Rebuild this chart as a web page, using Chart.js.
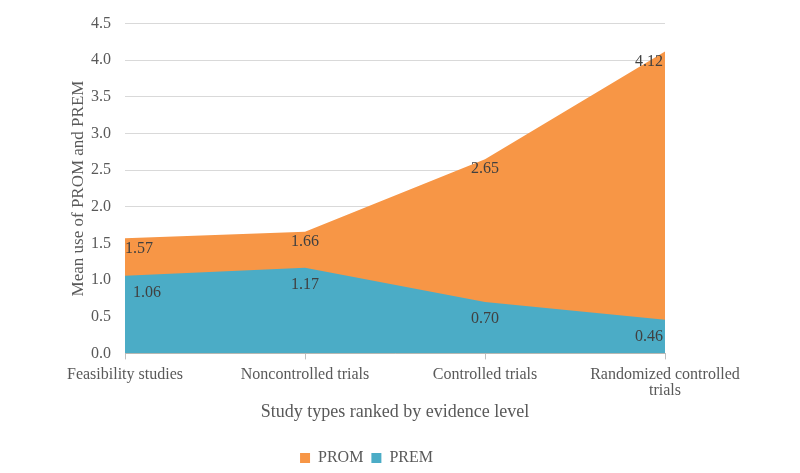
<!DOCTYPE html>
<html>
<head>
<meta charset="utf-8">
<script src="https://cdn.jsdelivr.net/npm/chart.js@4/dist/chart.umd.min.js"></script>
<style>
  html, body { margin: 0; padding: 0; background: #fff; }
  #wrap { width: 800px; height: 473px; }
</style>
</head>
<body>
<div id="wrap"><canvas id="chart"></canvas></div>
<script>
// study types, ranked by evidence level
const categories = [
  'Feasibility studies',
  'Noncontrolled trials',
  'Controlled trials',
  ['Randomized controlled', 'trials']
];
const promValues = [1.57, 1.66, 2.65, 4.12];
const premValues = [1.06, 1.17, 0.70, 0.46];
const yTicks = [0, 0.5, 1, 1.5, 2, 2.5, 3, 3.5, 4, 4.5];

const FONT = "'Liberation Serif', 'DejaVu Serif', serif";
const TEXT = '#595959';

// value labels inside the areas, Excel style
const areaLabels = {
  id: 'areaLabels',
  afterDatasetsDraw(chart) {
    const ctx = chart.ctx;
    ctx.save();
    ctx.font = '16px ' + FONT;
    ctx.fillStyle = '#404040';
    ctx.textBaseline = 'top';
    chart.data.datasets.forEach((ds, i) => {
      const meta = chart.getDatasetMeta(i);
      const dy = ds.label === 'PROM' ? 2 : 9;
      meta.data.forEach((pt, j) => {
        const n = meta.data.length;
        let x = pt.x;
        if (j === 0) { ctx.textAlign = 'left'; x += ds.label === 'PROM' ? 0 : 8; }
        else if (j === n - 1) { ctx.textAlign = 'right'; x -= 2; }
        else ctx.textAlign = 'center';
        ctx.fillText(ds.data[j].toFixed(2), x, pt.y + dy);
      });
    });
    ctx.restore();
  }
};

new Chart(document.getElementById('chart'), {
  type: 'line',
  data: {
    labels: categories,
    datasets: [
      {
        label: 'PROM', data: promValues, order: 1,
        fill: 'origin', backgroundColor: '#F79646', borderColor: '#F79646',
        borderWidth: 0, pointRadius: 0, tension: 0
      },
      {
        label: 'PREM', data: premValues, order: 0,
        fill: 'origin', backgroundColor: '#4BACC6', borderColor: '#4BACC6',
        borderWidth: 0, pointRadius: 0, tension: 0
      }
    ]
  },
  options: {
    responsive: true, maintainAspectRatio: false, animation: false,
    layout: { padding: { left: 68, right: 135, top: 16, bottom: -3 } },
    plugins: {
      tooltip: { enabled: false },
      legend: {
        position: 'bottom',
        labels: {
          font: { family: FONT, size: 16 }, color: TEXT,
          boxWidth: 10, boxHeight: 10, padding: 8,
          sort: (a, b) => a.datasetIndex - b.datasetIndex
        }
      }
    },
    scales: {
      x: {
        offset: false,
        grid: { display: true, drawOnChartArea: false, tickLength: 6, color: '#BFBFBF' },
        border: { color: '#BFBFBF' },
        ticks: { font: { family: FONT, size: 16, lineHeight: 1.0 }, color: TEXT, maxRotation: 0, autoSkip: false, padding: 7 },
        title: { display: true, text: 'Study types ranked by evidence level', font: { family: FONT, size: 18 }, color: TEXT, padding: { top: -4, bottom: 19 } }
      },
      y: {
        min: 0, max: 4.5,
        afterBuildTicks: s => { s.ticks = yTicks.map(v => ({ value: v })); },
        afterFit: s => { s.width = 57; },
        grid: { color: '#D9D9D9', drawTicks: false },
        border: { display: false },
        ticks: { font: { family: FONT, size: 16 }, color: TEXT, padding: 14, callback: v => v.toFixed(1) },
        title: { display: true, text: 'Mean use of PROM and PREM', font: { family: FONT, size: 17 }, color: TEXT, padding: 0 }
      }
    }
  },
  plugins: [areaLabels]
});
</script>
</body>
</html>
